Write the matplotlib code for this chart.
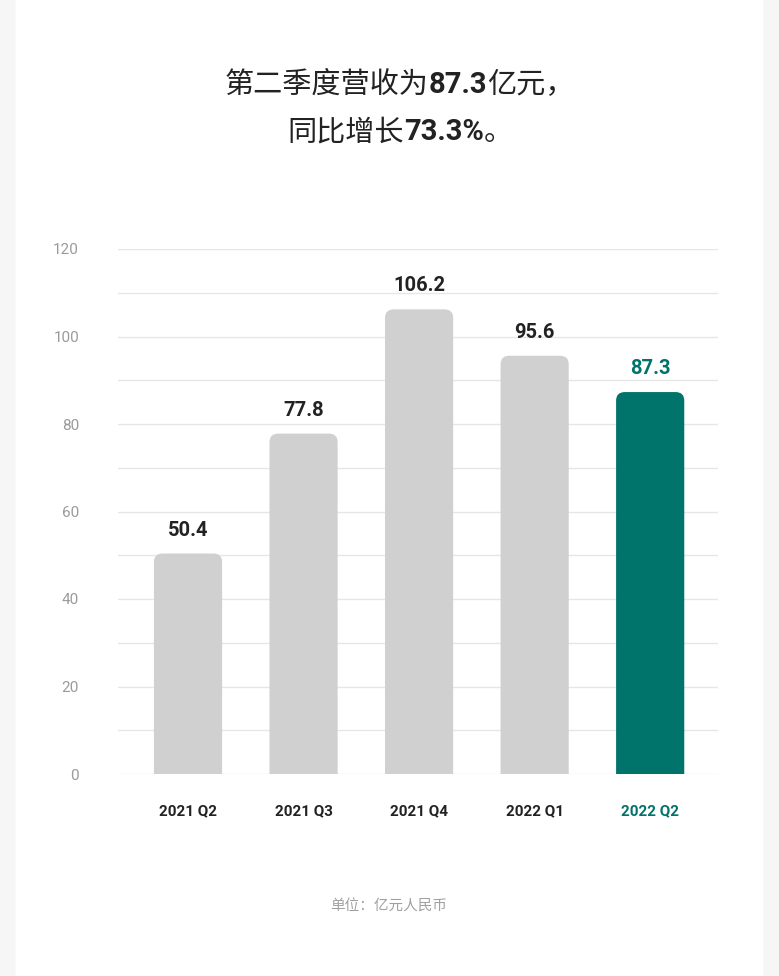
import matplotlib
matplotlib.use("Agg")
import matplotlib.pyplot as plt
from matplotlib.patches import FancyBboxPatch

categories = ["2021 Q2", "2021 Q3", "2021 Q4", "2022 Q1", "2022 Q2"]
values = [50.4, 77.8, 106.2, 95.6, 87.3]
yticks = [0, 20, 40, 60, 80, 100, 120]

GRAY = "#d0d0d0"
TEAL = "#00736b"
CJK = "Noto Sans CJK SC"

fig = plt.figure(figsize=(7.79, 9.76), dpi=100)
fig.patch.set_facecolor("#f6f6f6")
fig.patches.append(FancyBboxPatch((0.02, -0.05), 0.96, 1.1, boxstyle="round,pad=0,rounding_size=0.03",
                                  transform=fig.transFigure, facecolor="white", edgecolor="none", zorder=-5))

ax = fig.add_axes([118/779, 1-774/976, 600/779, 525/976])
ax.set_zorder(5)
ax.set_xlim(-0.606, 4.587)
ax.set_ylim(0, 120)
for y in range(0, 121, 10):
    ax.axhline(y, color="#e6e6e6", lw=1, zorder=0)
for s in ax.spines.values():
    s.set_visible(False)
ax.set_yticks(yticks)
ax.set_yticklabels([str(t) for t in yticks], color="#9a9a9a", fontsize=11, family="Roboto")
ax.tick_params(axis="y", length=0, pad=28)
ax.set_xticks(range(len(categories)))
ax.set_xticklabels(categories, fontsize=11, fontweight="bold", family="Roboto")
ax.tick_params(axis="x", length=0, pad=22)
for i, lab in enumerate(ax.get_xticklabels()):
    lab.set_color(TEAL if i == len(categories) - 1 else "#222222")
ax.set_facecolor("none")

w = 0.59
for i, v in enumerate(values):
    c = TEAL if i == len(values) - 1 else GRAY
    p = FancyBboxPatch((i - w/2, -5), w, v + 5, boxstyle="round,pad=0,rounding_size=0.075",
                       mutation_aspect=26, facecolor=c, edgecolor="none", zorder=2)
    ax.add_patch(p)
    ax.text(i, v + 3.2, f"{v}", ha="center", va="bottom", fontsize=14.5, fontweight="bold",
            family="Roboto", color=TEAL if i == len(values) - 1 else "#222222")

fig.canvas.draw()
r = fig.canvas.get_renderer()

def mixed(parts, yc):
    texts = []
    total = 0
    for s, bold in parts:
        t = fig.text(0, 1 - yc/976, s, fontsize=21,
                     family="Roboto" if bold else CJK,
                     fontweight="bold" if bold else "light", va="center", color="#222222")
        ext = t.get_window_extent(r)
        texts.append((t, ext.width))
        total += ext.width
    x = 400 - total/2
    for t, wd in texts:
        t.set_x(x/779)
        x += wd

mixed([("第二季度营收为", False), ("87.3", True), ("亿元，", False)], 85)
mixed([("同比增长", False), ("73.3%", True), ("。", False)], 132)

fig.text(389/779, 1 - 907/976, "单位：亿元人民币", family=CJK, fontsize=10.5, color="#a0a0a0",
         ha="center", va="center")

fig.savefig("out.png", dpi=100, facecolor=fig.get_facecolor())
